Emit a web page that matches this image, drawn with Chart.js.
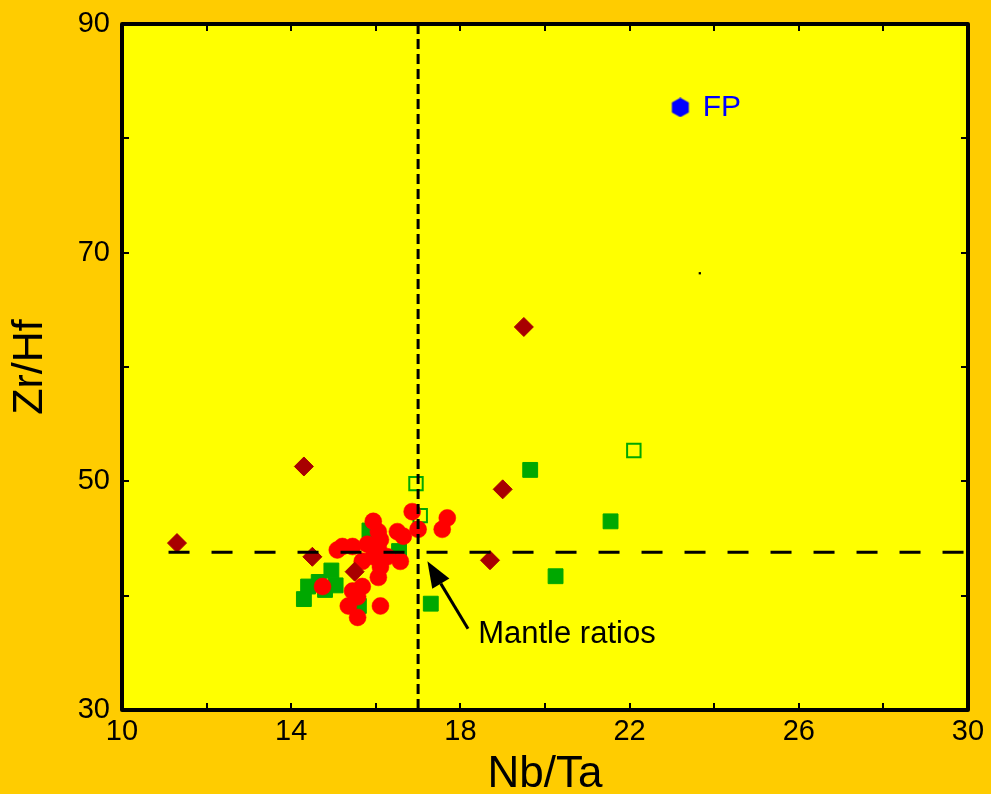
<!DOCTYPE html>
<html>
<head>
<meta charset="utf-8">
<script src="https://cdn.jsdelivr.net/npm/chart.js@4.4.1/dist/chart.umd.min.js"></script>
<style>
  html, body { margin: 0; padding: 0; background: #ffcc00; }
  #wrap { width: 991px; height: 794px; }
</style>
</head>
<body>
<div id="wrap"><canvas id="ratioChart" width="991" height="794"></canvas></div>
<script>
// Nb/Ta vs Zr/Hf, one pair of arrays per symbol group
const diamondNbTa = [11.3, 14.3, 14.5, 15.5, 19.5, 19.0, 18.7];
const diamondZrHf = [44.6, 51.3, 43.4, 42.1, 63.5, 49.3, 43.1];

const circleNbTa = [15.94, 16.06, 16.11, 16.51, 16.65, 16.86, 17.0, 17.69, 17.57, 15.21, 15.45, 15.09, 15.8, 16.06,
  15.94, 15.68, 16.58, 16.27, 16.11, 16.06, 15.68, 14.74, 15.45, 15.57, 15.35, 16.11, 15.57];
const circleZrHf = [46.5, 45.6, 44.9, 45.6, 45.2, 47.35, 45.8, 46.8, 45.8, 44.3, 44.3, 44.0, 44.5, 44.2,
  43.4, 43.0, 43.0, 43.4, 42.5, 41.6, 40.8, 40.8, 40.4, 39.9, 39.1, 39.1, 38.1];

const squareNbTa = [14.3, 14.4, 14.65, 14.8, 14.95, 15.05, 15.6, 15.85, 16.55, 17.3, 19.65, 21.55, 20.25];
const squareZrHf = [39.7, 40.8, 41.2, 40.5, 42.2, 40.9, 39.1, 45.7, 43.9, 39.3, 51.0, 46.5, 41.7];

const openNbTa = [16.95, 17.05, 22.1];
const openZrHf = [49.8, 47.0, 52.7];

const fpNbTa = [23.2];
const fpZrHf = [82.7];

const strayNbTa = [23.66];
const strayZrHf = [68.2];

// mantle reference ratios
const mantleNbTa = 17;
const mantleZrHf = 43.8;

// axis ticks
const xTicks = [10, 14, 18, 22, 26, 30];
const xMinor = [12, 16, 20, 24, 28];
const yTicks = [30, 50, 70, 90];
const yMinor = [40, 60, 80];

// annotation anchors (data units)
const arrowTail = [18.18, 37.1];
const arrowTip = [17.22, 43.0];
const mantleLabel = { text: 'Mantle ratios', x: 18.42, y: 35.85 };
const fpLabel = { text: 'FP', x: 23.73, y: 82.7 };

const pts = (xs, ys) => xs.map((x, i) => ({ x: x, y: ys[i] }));

// hexagon marker for FP
const hex = document.createElement('canvas');
hex.width = 20; hex.height = 20;
(function () {
  const c = hex.getContext('2d');
  c.fillStyle = '#0000ff';
  c.beginPath();
  for (let k = 0; k < 6; k++) {
    const a = -Math.PI / 2 + k * Math.PI / 3;
    const px = 10 + 9.8 * Math.cos(a), py = 10 + 9.8 * Math.sin(a);
    k ? c.lineTo(px, py) : c.moveTo(px, py);
  }
  c.closePath();
  c.fill();
})();

const fontFam = '"Liberation Sans", Arial, Helvetica, sans-serif';

const decor = {
  id: 'decor',
  beforeDraw(chart) {
    const { ctx, chartArea: a } = chart;
    ctx.save();
    ctx.fillStyle = '#ffcc00';
    ctx.fillRect(0, 0, chart.width, chart.height);
    ctx.fillStyle = '#ffff00';
    ctx.fillRect(a.left, a.top, a.right - a.left, a.bottom - a.top);
    ctx.restore();
  },
  afterDatasetsDraw(chart) {
    const { ctx, chartArea: a, scales: { x, y } } = chart;
    ctx.save();
    // inward tick marks on all four sides
    ctx.strokeStyle = '#000';
    ctx.lineWidth = 2;
    const tl = 7;
    ctx.beginPath();
    xTicks.concat(xMinor).forEach(v => {
      const px = Math.round(x.getPixelForValue(v));
      ctx.moveTo(px, a.bottom); ctx.lineTo(px, a.bottom - tl);
      ctx.moveTo(px, a.top); ctx.lineTo(px, a.top + tl);
    });
    yTicks.concat(yMinor).forEach(v => {
      const py = Math.round(y.getPixelForValue(v));
      ctx.moveTo(a.left, py); ctx.lineTo(a.left + tl, py);
      ctx.moveTo(a.right, py); ctx.lineTo(a.right - tl, py);
    });
    ctx.stroke();
    // frame
    ctx.lineWidth = 4;
    ctx.lineJoin = 'round';
    ctx.strokeRect(a.left, a.top, a.right - a.left, a.bottom - a.top);

    // arrow to the mantle point
    const tx = x.getPixelForValue(arrowTail[0]), ty = y.getPixelForValue(arrowTail[1]);
    const hx = x.getPixelForValue(arrowTip[0]), hy = y.getPixelForValue(arrowTip[1]);
    const ang = Math.atan2(hy - ty, hx - tx);
    const hl = 26, hw = 10;
    const bx = hx - hl * Math.cos(ang), by = hy - hl * Math.sin(ang);
    ctx.lineWidth = 3;
    ctx.beginPath();
    ctx.moveTo(tx, ty); ctx.lineTo(bx, by);
    ctx.stroke();
    ctx.fillStyle = '#000';
    ctx.beginPath();
    ctx.moveTo(hx, hy);
    ctx.lineTo(bx + hw * Math.sin(ang), by - hw * Math.cos(ang));
    ctx.lineTo(bx - hw * Math.sin(ang), by + hw * Math.cos(ang));
    ctx.closePath();
    ctx.fill();

    // labels
    ctx.font = '31px ' + fontFam;
    ctx.textAlign = 'left';
    ctx.textBaseline = 'alphabetic';
    ctx.fillText(mantleLabel.text, x.getPixelForValue(mantleLabel.x), y.getPixelForValue(mantleLabel.y));
    ctx.fillStyle = '#0000ff';
    ctx.font = '30px ' + fontFam;
    ctx.textBaseline = 'middle';
    ctx.fillText(fpLabel.text, x.getPixelForValue(fpLabel.x), y.getPixelForValue(fpLabel.y));
    ctx.restore();
  }
};

new Chart(document.getElementById('ratioChart'), {
  type: 'scatter',
  data: {
    datasets: [
      {
        label: 'mantle Zr/Hf',
        data: [{ x: 11.1, y: mantleZrHf }, { x: 30, y: mantleZrHf }],
        showLine: true, borderColor: '#000', borderWidth: 3, borderDash: [21, 22],
        pointRadius: 0, fill: false
      },
      {
        label: 'mantle Nb/Ta',
        data: [{ x: mantleNbTa, y: 90 }, { x: mantleNbTa, y: 30 }],
        showLine: true, borderColor: '#000', borderWidth: 3, borderDash: [10, 5],
        pointRadius: 0, fill: false
      },
      {
        label: 'FP',
        data: pts(fpNbTa, fpZrHf),
        pointStyle: hex, pointRadius: 10
      },
      {
        label: 'stray',
        data: pts(strayNbTa, strayZrHf),
        pointStyle: 'rect', pointRadius: 1.6, backgroundColor: '#000', borderWidth: 0
      },
      {
        label: 'diamonds',
        data: pts(diamondNbTa, diamondZrHf),
        pointStyle: 'rectRot', pointRadius: 9.5,
        backgroundColor: '#a80000', borderColor: '#a80000', borderWidth: 1
      },
      {
        label: 'circles',
        data: pts(circleNbTa, circleZrHf),
        pointStyle: 'circle', pointRadius: 8.5,
        backgroundColor: '#ff0000', borderColor: '#ff0000', borderWidth: 0.5
      },
      {
        label: 'open squares',
        data: pts(openNbTa, openZrHf),
        pointStyle: 'rect', pointRadius: 9.5,
        backgroundColor: 'rgba(0,0,0,0)', borderColor: '#00a800', borderWidth: 2
      },
      {
        label: 'squares',
        data: pts(squareNbTa, squareZrHf),
        pointStyle: 'rect', pointRadius: 10.5,
        backgroundColor: '#00a800', borderColor: '#00a800', borderWidth: 1
      }
    ]
  },
  options: {
    responsive: false,
    animation: false,
    layout: { padding: { left: 0, right: 23, top: 24, bottom: 0 } },
    plugins: { legend: { display: false }, tooltip: { enabled: false } },
    scales: {
      x: {
        type: 'linear', min: 10, max: 30,
        afterBuildTicks: s => { s.ticks = xTicks.map(v => ({ value: v })); },
        afterFit: s => { s.height = 84; s.paddingLeft = 0; s.paddingRight = 0; },
        grid: { display: false, drawTicks: false },
        border: { display: false },
        ticks: { color: '#000', padding: 5, font: { family: fontFam, size: 29 } },
        title: {
          display: true, text: 'Nb/Ta', color: '#000',
          font: { family: fontFam, size: 44, lineHeight: 0.86 }, padding: 0
        }
      },
      y: {
        type: 'linear', min: 30, max: 90,
        afterBuildTicks: s => { s.ticks = yTicks.map(v => ({ value: v })); },
        afterFit: s => { s.width = 122; s.paddingTop = 0; s.paddingBottom = 0; },
        grid: { display: false, drawTicks: false },
        border: { display: false },
        ticks: { color: '#000', padding: 12, font: { family: fontFam, size: 29 } },
        title: {
          display: true, text: 'Zr/Hf', color: '#000',
          font: { family: fontFam, size: 43, lineHeight: 1 }, padding: { top: 9, bottom: 0 }
        }
      }
    }
  },
  plugins: [decor]
});
</script>
</body>
</html>
